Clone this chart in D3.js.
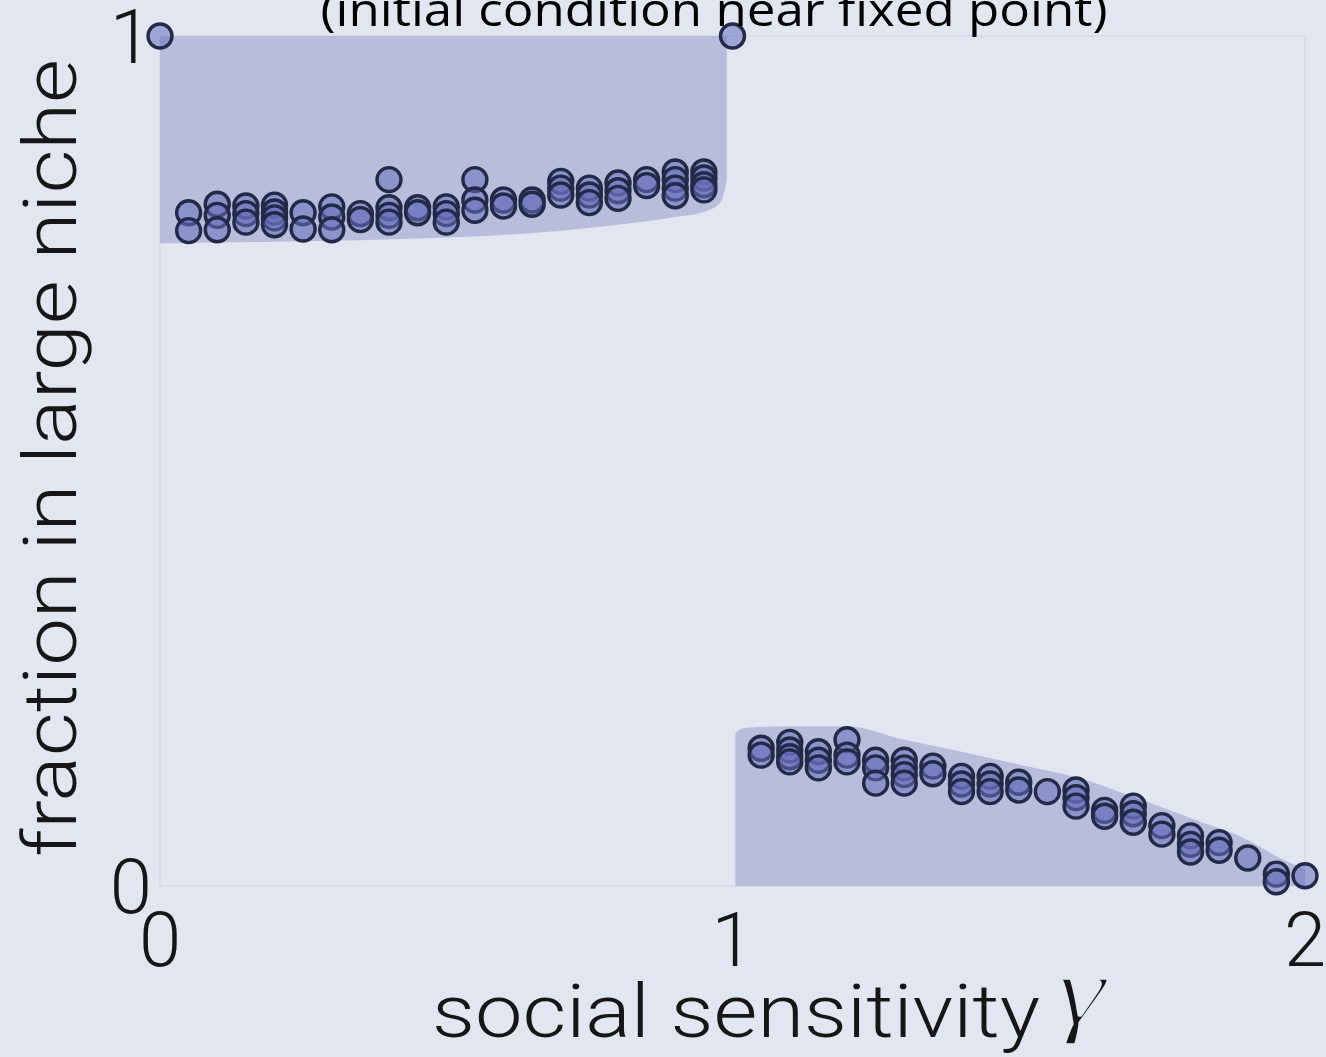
<!DOCTYPE html>
<html>
<head>
<meta charset="utf-8">
<script src="https://cdn.jsdelivr.net/npm/d3@7"></script>
<style>
  html, body { margin: 0; padding: 0; background: #e2e6f1; }
  svg { display: block; }
</style>
</head>
<body>
<svg id="chart" width="1326" height="1057"></svg>
<script>
// Social sensitivity values (gamma) sampled in each branch
const gammaHigh = [0.05, 0.10, 0.15, 0.20, 0.25, 0.30, 0.35, 0.40, 0.45, 0.50,
                   0.55, 0.60, 0.65, 0.70, 0.75, 0.80, 0.85, 0.90, 0.95];
// Fraction in large niche for each run, high branch
const runsHigh = [
  [0.792, 0.771],
  [0.802, 0.789, 0.772],
  [0.800, 0.791, 0.781],
  [0.801, 0.793, 0.786, 0.778],
  [0.792, 0.773],
  [0.799, 0.787, 0.772],
  [0.791, 0.784],
  [0.831, 0.798, 0.789, 0.781],
  [0.798, 0.792],
  [0.799, 0.791, 0.781],
  [0.831, 0.807, 0.795],
  [0.807, 0.800],
  [0.807, 0.802],
  [0.829, 0.821, 0.813],
  [0.821, 0.813, 0.804],
  [0.827, 0.818, 0.809],
  [0.831, 0.824],
  [0.840, 0.831, 0.821, 0.812],
  [0.840, 0.833, 0.825, 0.819]
];

const gammaLow = [1.05, 1.10, 1.15, 1.20, 1.25, 1.30, 1.35, 1.40, 1.45, 1.50,
                  1.55, 1.60, 1.65, 1.70, 1.75, 1.80, 1.85, 1.90, 1.95, 2.00];
// Fraction in large niche for each run, low branch
const runsLow = [
  [0.162, 0.154],
  [0.169, 0.160, 0.152, 0.146],
  [0.158, 0.148, 0.139],
  [0.172, 0.154, 0.146],
  [0.148, 0.139, 0.121],
  [0.148, 0.139, 0.131, 0.121],
  [0.141, 0.132],
  [0.129, 0.120, 0.111],
  [0.129, 0.120, 0.111],
  [0.122, 0.113],
  [0.111],
  [0.113, 0.104, 0.094],
  [0.089, 0.082],
  [0.094, 0.085, 0.075],
  [0.071, 0.061],
  [0.059, 0.049, 0.040],
  [0.051, 0.042],
  [0.033],
  [0.014, 0.005],
  [0.012]
];

// Single runs sitting at the fixed point
const fixedGamma = [0, 1];
const fixedValue = [1, 1];

// Envelope of all runs: high branch
const bandHighGamma = [0, 0.1, 0.2, 0.3, 0.4, 0.5, 0.6, 0.7, 0.8, 0.9, 0.95, 0.98, 0.99];
const bandHighLower = [0.756, 0.757, 0.758, 0.759, 0.761, 0.763, 0.766, 0.771, 0.778, 0.787, 0.793, 0.805, 0.830];
const bandHighUpper = [1, 1, 1, 1, 1, 1, 1, 1, 1, 1, 1, 1, 1];

// Envelope of all runs: low branch
const bandLowGamma = [1.005, 1.02, 1.1, 1.2, 1.3, 1.4, 1.5, 1.6, 1.7, 1.8, 1.9, 1.95, 2.0];
const bandLowUpper = [0.180, 0.186, 0.188, 0.188, 0.172, 0.158, 0.143, 0.128, 0.105, 0.080, 0.054, 0.035, 0.020];
const bandLowLower = [0, 0, 0, 0, 0, 0, 0, 0, 0, 0, 0, 0, 0];

const xTicks = [0, 1, 2];
const yTicks = [0, 1];

const titleText = "(initial condition near fixed point)";
const xLabel = "social sensitivity";
const xSymbol = "\u03B3";
const yLabel = "fraction in large niche";

const svg = d3.select("#chart");

const x = d3.scaleLinear().domain([0, 2]).range([160, 1305]);
const y = d3.scaleLinear().domain([0, 1]).range([886, 36]);

const pageBg = "#e2e6f1";
const bandFill = "#b9bddc";
const dotFill = "rgba(104,112,188,0.55)";
const dotStroke = "#232a48";
const frameColor = "#d3d7e5";
const fontMain = "Roboto, 'Liberation Sans', Arial, sans-serif";
const textColor = "#161616";

// Plot frame
svg.append("rect")
  .attr("x", x(0)).attr("y", y(1))
  .attr("width", x(2) - x(0)).attr("height", y(0) - y(1))
  .attr("fill", "none").attr("stroke", frameColor).attr("stroke-width", 1.2);

// Shaded envelopes
function bandPath(g, lo, hi) {
  const pts = g.map((v, i) => ({ g: v, lo: lo[i], hi: hi[i] }));
  return d3.area()
    .x(d => x(d.g))
    .y0(d => y(d.lo))
    .y1(d => y(d.hi))
    .curve(d3.curveMonotoneX)(pts);
}
svg.append("path")
  .attr("d", bandPath(bandHighGamma, bandHighLower, bandHighUpper))
  .attr("fill", bandFill);
svg.append("path")
  .attr("d", bandPath(bandLowGamma, bandLowLower, bandLowUpper))
  .attr("fill", bandFill);

// Individual runs
function flatten(gs, runs) {
  const out = [];
  gs.forEach((g, i) => runs[i].forEach(v => out.push({ g, v })));
  return out;
}
const dots = flatten(gammaHigh, runsHigh)
  .concat(flatten(gammaLow, runsLow))
  .concat(fixedGamma.map((g, i) => ({ g, v: fixedValue[i] })));

svg.append("g").selectAll("circle")
  .data(dots)
  .join("circle")
  .attr("cx", d => x(d.g))
  .attr("cy", d => y(d.v))
  .attr("r", 12)
  .attr("fill", dotFill)
  .attr("stroke", dotStroke)
  .attr("stroke-width", 3.4);

// Tick labels
svg.append("g").selectAll("text")
  .data(xTicks)
  .join("text")
  .attr("x", d => x(d))
  .attr("y", 966)
  .attr("text-anchor", "middle")
  .attr("font-family", fontMain)
  .attr("font-weight", 300)
  .attr("font-size", 76)
  .attr("fill", textColor)
  .text(d => d);

svg.append("g").selectAll("text")
  .data(yTicks)
  .join("text")
  .attr("x", 152)
  .attr("y", d => y(d))
  .attr("dy", "0.36em")
  .attr("text-anchor", "end")
  .attr("font-family", fontMain)
  .attr("font-weight", 300)
  .attr("font-size", 76)
  .attr("fill", textColor)
  .text(d => d);

// Axis titles
svg.append("text")
  .attr("x", 432)
  .attr("y", 1037)
  .attr("font-family", fontMain)
  .attr("font-weight", 300)
  .attr("font-size", 74)
  .attr("fill", textColor)
  .attr("textLength", 608)
  .attr("lengthAdjust", "spacingAndGlyphs")
  .text(xLabel);

// Math-style gamma, with its strokes thinned by a background-coloured outline
svg.append("text")
  .attr("x", 1056)
  .attr("y", 1024)
  .attr("font-family", "'Liberation Serif', 'DejaVu Serif', serif")
  .attr("font-style", "italic")
  .attr("font-size", 100)
  .attr("fill", textColor)
  .attr("stroke", pageBg)
  .attr("stroke-width", 3.5)
  .attr("stroke-linejoin", "round")
  .attr("textLength", 50)
  .attr("lengthAdjust", "spacingAndGlyphs")
  .text(xSymbol);

svg.append("text")
  .attr("transform", "translate(76,458) rotate(-90)")
  .attr("text-anchor", "middle")
  .attr("font-family", fontMain)
  .attr("font-weight", 300)
  .attr("font-size", 74)
  .attr("fill", textColor)
  .attr("textLength", 798)
  .attr("lengthAdjust", "spacingAndGlyphs")
  .text(yLabel);

// Title (partly above the visible area)
svg.append("text")
  .attr("x", 714)
  .attr("y", 26)
  .attr("text-anchor", "middle")
  .attr("font-family", "'Liberation Sans Narrow', 'Open Sans', sans-serif")
  .attr("font-size", 46)
  .attr("fill", "#000")
  .attr("textLength", 787)
  .attr("lengthAdjust", "spacingAndGlyphs")
  .text(titleText);
</script>
</body>
</html>
